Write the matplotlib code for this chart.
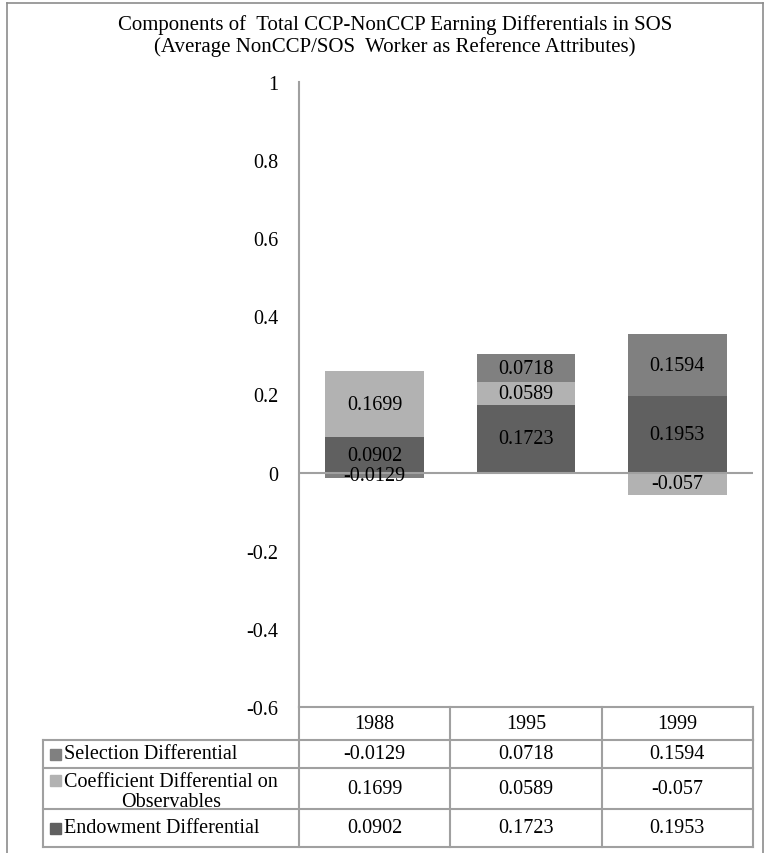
import numpy as np
import matplotlib
matplotlib.use("Agg")
import matplotlib.pyplot as plt
from matplotlib.lines import Line2D
from matplotlib.patches import Rectangle

plt.rcParams['font.family'] = ['Liberation Serif', 'DejaVu Serif']

# Dữ liệu
years = ['1988', '1995', '1999']
series_names = ['Selection Differential', 'Coefficient Differential on\nObservables', 'Endowment Differential']
selection = [-0.0129, 0.0718, 0.1594]
coefficient = [0.1699, 0.0589, -0.057]
endowment = [0.0902, 0.1723, 0.1953]
colors = {'sel': '#808080', 'coef': '#b2b2b2', 'endow': '#606060'}
yticks = [-0.6, -0.4, -0.2, 0, 0.2, 0.4, 0.6, 0.8, 1]
ytick_labels = ['-0.6', '-0.4', '-0.2', '0', '0.2', '0.4', '0.6', '0.8', '1']

W, H = 765, 854
grey = '#a0a0a0'
fs = 14.5

def fx(px):
    return px / W

def fy(py):
    return 1 - py / H

fig = plt.figure(figsize=(W / 100, H / 100), dpi=100)

# Khung ngoài
for xs, ys in [([7, 7], [4, H + 5]), ([7, 763], [4, 4]), ([763, 763], [4, H + 5])]:
    fig.add_artist(Line2D([fx(v) for v in xs], [fy(v) for v in ys], color='#8c8c8c', lw=1.2,
                          transform=fig.transFigure))

fig.text(fx(395), fy(25), 'Components of  Total CCP-NonCCP Earning Differentials in SOS',
         ha='center', va='center', fontsize=15)
fig.text(fx(395), fy(47), '(Average NonCCP/SOS  Worker as Reference Attributes)',
         ha='center', va='center', fontsize=15)

# Biểu đồ cột chồng
ax = fig.add_axes([fx(299), fy(708), (753 - 299) / W, (708 - 83) / H])
x = np.arange(len(years))
bw = 0.65
pos_base = np.zeros(len(years))
neg_base = np.zeros(len(years))
for vals, key in [(endowment, 'endow'), (coefficient, 'coef'), (selection, 'sel')]:
    vals = np.array(vals)
    base = np.where(vals >= 0, pos_base, neg_base)
    ax.bar(x, vals, bw, bottom=base, color=colors[key], linewidth=0, zorder=2)
    for xi, b, v in zip(x, base, vals):
        ax.text(xi, b + v / 2, f'{v:g}', ha='center', va='center', fontsize=fs, zorder=4)
    pos_base = pos_base + np.where(vals >= 0, vals, 0)
    neg_base = neg_base + np.where(vals < 0, vals, 0)

ax.axhline(0, color=grey, lw=1.5, zorder=3)
ax.set_xlim(-0.5, len(years) - 0.5)
ax.set_ylim(-0.6, 1)
ax.set_yticks(yticks)
ax.set_yticklabels(ytick_labels, fontsize=fs)
ax.set_xticks([])
ax.tick_params(axis='y', length=0, pad=15)
for s in ['top', 'right', 'bottom']:
    ax.spines[s].set_visible(False)
ax.spines['left'].set_color(grey)
ax.spines['left'].set_linewidth(1.5)

# Bảng dữ liệu
row_h = [33, 28, 41, 38]
tax = fig.add_axes([fx(43), fy(708 + sum(row_h)), (753 - 43) / W, sum(row_h) / H])
lw_col = (299 - 43) / ((753 - 299) / 3)
x0 = -0.5 - lw_col
x1 = len(years) - 0.5
tax.set_xlim(x0, x1)
tax.set_ylim(sum(row_h), 0)
tax.axis('off')

edges = np.concatenate([[0], np.cumsum(row_h)])
lk = dict(color=grey, lw=1.5, clip_on=False)
# dòng tiêu đề
tax.plot([-0.5, x1], [0, 0], **lk)
for i in range(len(years) + 1):
    tax.plot([i - 0.5, i - 0.5], [0, edges[1]], **lk)
for i, yr in enumerate(years):
    tax.text(i, edges[1] / 2, yr, ha='center', va='center', fontsize=fs)
# các dòng dữ liệu
for e in edges[1:]:
    tax.plot([x0, x1], [e, e], **lk)
for xv in [x0] + [i - 0.5 for i in range(len(years) + 1)]:
    tax.plot([xv, xv], [edges[1], edges[-1]], **lk)

px = (x1 - x0) / (753 - 43)
rows = [(series_names[0], selection, colors['sel']),
        (series_names[1], coefficient, colors['coef']),
        (series_names[2], endowment, colors['endow'])]
for r, (name, vals, c) in enumerate(rows):
    yc = (edges[r + 1] + edges[r + 2]) / 2
    if '\n' in name:
        ty = yc + 3
        sq = ty - 11
    else:
        ty = yc
        sq = yc
    tax.add_patch(Rectangle((x0 + 7 * px, sq - 5.5), 11 * px, 11, color=c, clip_on=False))
    tax.text(x0 + 21 * px, ty, name, ha='left', va='center', fontsize=fs,
             multialignment='center', linespacing=1.1)
    for i, v in enumerate(vals):
        tax.text(i, yc, f'{v:g}', ha='center', va='center', fontsize=fs)

fig.savefig('out.png', dpi=100)
